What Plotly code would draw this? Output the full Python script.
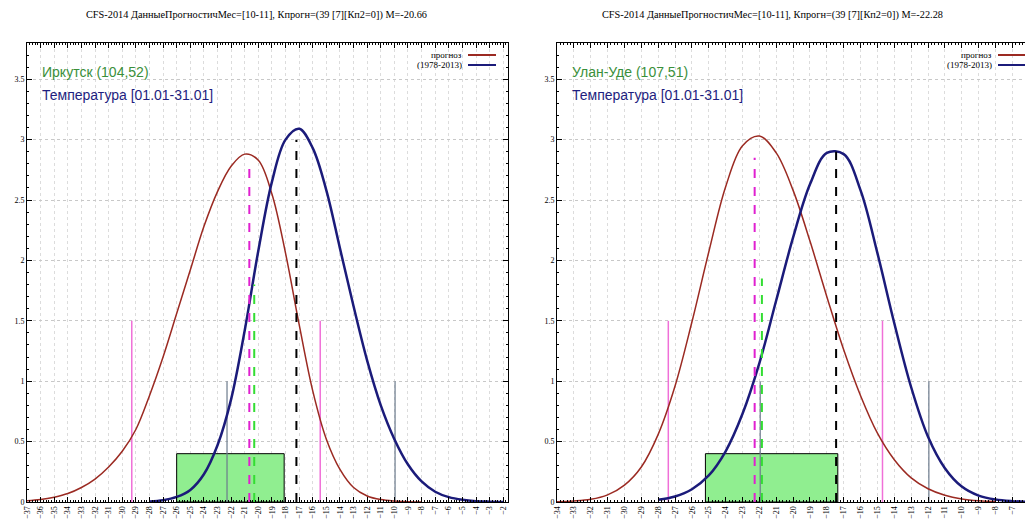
import plotly.graph_objects as go

W, H = 1025, 522
M_T, M_B = 43, 20

# ---------------- data: left panel (Иркутск) ----------------
titles = ["CFS-2014 ДанныеПрогностичМес=[10-11], Кпрогн=(39 [7][Кп2=0]) M=-20.66",
          "CFS-2014 ДанныеПрогностичМес=[10-11], Кпрогн=(39 [7][Кп2=0]) M=-22.28"]
stations = ["Иркутск (104,52)", "Улан-Уде (107,51)"]
param_label = "Температура [01.01-31.01]"
legend_names = ["прогноз", "(1978-2013)"]

red_x_L = list(range(-37, -7))
red_y_L = [0.01, 0.02, 0.04, 0.07, 0.12, 0.19, 0.29, 0.42, 0.60, 0.88, 1.20, 1.56, 1.92, 2.28, 2.57,
           2.78, 2.88, 2.83, 2.55, 2.06, 1.47, 0.92, 0.52, 0.27, 0.12, 0.05, 0.02, 0.008, 0.003, 0.0]
blue_x_L = list(range(-28, -1))
blue_y_L = [0.005, 0.015, 0.042, 0.10, 0.23, 0.47, 0.85, 1.42, 2.08, 2.65, 3.0, 3.09, 2.93, 2.58, 2.10,
            1.62, 1.17, 0.80, 0.52, 0.31, 0.17, 0.085, 0.04, 0.018, 0.007, 0.003, 0.001]
box_L = [-26.0, -18.1, 0.4]
gray_x_L = [-22.3, -9.95]
gray_h = 1.0
mag_x_L = [-29.3, -15.45]
mag_h = 1.5
pinkdash_L = [-20.66, 2.8]
greendash_L = [-20.3, 1.8]
blackdash_L = [-17.2, 3.0]
xrange_L = [-37.0, -1.65]

# ---------------- data: right panel (Улан-Уде) ----------------
red_x_R = list(range(-34, -7))
red_y_R = [0.002, 0.008, 0.022, 0.059, 0.14, 0.29, 0.56, 0.96, 1.49, 2.07, 2.61, 2.95, 3.03, 2.89,
           2.58, 2.16, 1.70, 1.26, 0.88, 0.57, 0.35, 0.20, 0.11, 0.056, 0.025, 0.01, 0.004]
blue_x_R = list(range(-28, -5))
blue_y_R = [0.018, 0.046, 0.106, 0.22, 0.42, 0.73, 1.15, 1.67, 2.19, 2.63, 2.89, 2.88, 2.58, 2.06,
            1.48, 0.95, 0.54, 0.28, 0.128, 0.053, 0.02, 0.007, 0.002]
box_R = [-25.2, -17.35, 0.4]
gray_x_R = [-21.95, -11.95]
mag_x_R = [-27.4, -14.7]
pinkdash_R = [-22.28, 2.85]
greendash_R = [-21.85, 1.85]
blackdash_R = [-17.45, 2.9]
xrange_R = [-34.0, -6.25]

y_range = [0, 3.8]

RED = "#9b2a22"
BLUE = "#1b1b7a"
SERIF = "Liberation Serif, Times New Roman, serif"
SANS = "Liberation Sans, Arial, sans-serif"

fig = go.Figure()

panels = [
    dict(xa="x", ya="y", red=(red_x_L, red_y_L), blue=(blue_x_L, blue_y_L), box=box_L,
         gray=gray_x_L, mag=mag_x_L, pink=pinkdash_L, green=greendash_L, black=blackdash_L),
    dict(xa="x2", ya="y2", red=(red_x_R, red_y_R), blue=(blue_x_R, blue_y_R), box=box_R,
         gray=gray_x_R, mag=mag_x_R, pink=pinkdash_R, green=greendash_R, black=blackdash_R),
]

for p in panels:
    xa, ya = p["xa"], p["ya"]
    b = p["box"]
    fig.add_trace(go.Scatter(x=[b[0], b[1], b[1], b[0], b[0]], y=[0, 0, b[2], b[2], 0],
                             mode="lines", fill="toself", fillcolor="#90ee90",
                             line=dict(color="#000000", width=1), xaxis=xa, yaxis=ya,
                             showlegend=False, hoverinfo="skip"))
    for gx in p["gray"]:
        fig.add_trace(go.Scatter(x=[gx, gx], y=[0, gray_h], mode="lines",
                                 line=dict(color="#6c7a8c", width=1.2), xaxis=xa, yaxis=ya,
                                 showlegend=False))
    for mx in p["mag"]:
        fig.add_trace(go.Scatter(x=[mx, mx], y=[0, mag_h], mode="lines",
                                 line=dict(color="#f070d8", width=1.5), xaxis=xa, yaxis=ya,
                                 showlegend=False))
    fig.add_trace(go.Scatter(x=p["red"][0], y=p["red"][1], mode="lines",
                             line=dict(color=RED, width=1.5, shape="spline", smoothing=1.0),
                             xaxis=xa, yaxis=ya, showlegend=False))
    fig.add_trace(go.Scatter(x=p["blue"][0], y=p["blue"][1], mode="lines",
                             line=dict(color=BLUE, width=2.5, shape="spline", smoothing=1.0),
                             xaxis=xa, yaxis=ya, showlegend=False))
    for (vx, vh), col in [(p["green"], "#33dd33"), (p["pink"], "#e020d0"), (p["black"], "#000000")]:
        fig.add_trace(go.Scatter(x=[vx, vx], y=[0, vh], mode="lines",
                                 line=dict(color=col, width=2, dash="dash"), xaxis=xa, yaxis=ya,
                                 showlegend=False))

# axes
L0, L1 = 27 / W, 508 / W
R0, R1 = 557 / W, 1.0

xcommon = dict(dtick=1, tickangle=-90, ticks="inside", ticklen=5, tickcolor="#000",
               showline=True, linecolor="#000", linewidth=1, mirror="allticks", automargin=False,
               showgrid=True, gridcolor="#dcdcdc", griddash="dot", gridwidth=1,
               zeroline=False, tickfont=dict(family=SERIF, size=8, color="#000"),
               minor=dict(dtick=0.2, ticks="inside", ticklen=2, tickcolor="#000", showgrid=False))
ycommon = dict(range=y_range, dtick=0.5, ticks="inside", ticklen=5, tickcolor="#000",
               showline=True, linecolor="#000", linewidth=1, automargin=False,
               showgrid=True, gridcolor="#c8c8c8", griddash="dot", gridwidth=1,
               zeroline=False, tickfont=dict(family=SERIF, size=8, color="#000"),
               minor=dict(dtick=0.1, ticks="inside", ticklen=2, tickcolor="#000", showgrid=False))

fig.update_layout(
    width=W, height=H,
    margin=dict(l=0, r=0, t=M_T, b=M_B, autoexpand=False),
    paper_bgcolor="#ffffff", plot_bgcolor="#ffffff",
    showlegend=False,
    xaxis=dict(domain=[L0, L1], range=xrange_L, anchor="y", **xcommon),
    yaxis=dict(domain=[0, 1], anchor="x", mirror="allticks", **ycommon),
    xaxis2=dict(domain=[R0, R1], range=xrange_R, anchor="y2", **xcommon),
    yaxis2=dict(domain=[0, 1], anchor="x2", mirror=False, **ycommon),
)


def px(xp):
    return xp / W


def py(yp):
    return (H - M_B - yp) / (H - M_T - M_B)


ann = []
# titles
for cx, t in zip([256, 772], titles):
    ann.append(dict(x=px(cx), y=py(15), xref="paper", yref="paper", text=t, showarrow=False,
                    xanchor="center", yanchor="middle",
                    font=dict(family=SERIF, size=10.3, color="#000")))
# station / parameter labels
for x0, st in zip([40, 570], stations):
    ann.append(dict(x=px(x0), y=py(72), xref="paper", yref="paper", text=st, showarrow=False,
                    xanchor="left", yanchor="middle",
                    font=dict(family=SANS, size=14, color="#3a8f3a")))
    ann.append(dict(x=px(x0), y=py(95), xref="paper", yref="paper", text=param_label,
                    showarrow=False, xanchor="left", yanchor="middle",
                    font=dict(family=SANS, size=14, color="#1e1e80")))
# legends (text right of which a line sample is drawn)
shapes = []
for tx, lx0 in [(464, 468), (994, 998)]:
    for yy, name, col in [(55, legend_names[0], RED), (65, legend_names[1], BLUE)]:
        ann.append(dict(x=px(tx), y=py(yy), xref="paper", yref="paper", text=name,
                        showarrow=False, xanchor="right", yanchor="middle",
                        font=dict(family=SERIF, size=9, color="#000")))
        shapes.append(dict(type="line", xref="paper", yref="paper", x0=px(lx0), x1=px(lx0 + 28),
                           y0=py(yy), y1=py(yy), line=dict(color=col, width=2)))

fig.update_layout(annotations=ann, shapes=shapes)
fig.write_html("out.html", config={"displayModeBar": False},
               post_script="document.body.style.margin='0';document.body.style.padding='0';")
